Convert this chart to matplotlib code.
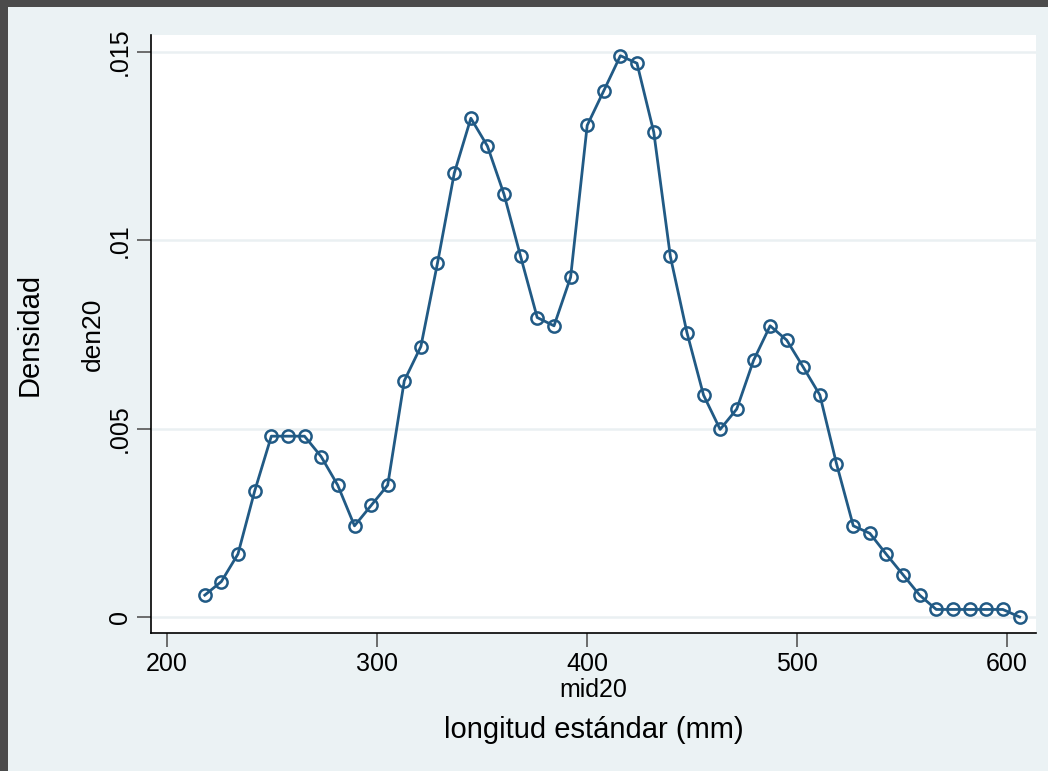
import matplotlib
matplotlib.use("Agg")
import matplotlib.pyplot as plt
from matplotlib.patches import Rectangle

# kdensity-style points (mid20 vs den20)
mid20 = [218.0, 225.9, 233.8, 241.8, 249.7, 257.6, 265.5, 273.4, 281.3, 289.3,
         297.2, 305.1, 313.0, 320.9, 328.8, 336.8, 344.7, 352.6, 360.5, 368.4,
         376.3, 384.3, 392.2, 400.1, 408.0, 415.9, 423.8, 431.8, 439.7, 447.6,
         455.5, 463.4, 471.3, 479.3, 487.2, 495.1, 503.0, 510.9, 518.8, 526.8,
         534.7, 542.6, 550.5, 558.4, 566.3, 574.3, 582.2, 590.1, 598.0, 606.0]
den20 = [0.00058, 0.00094, 0.00167, 0.00335, 0.00480, 0.00480, 0.00480, 0.00426, 0.00350, 0.00242,
         0.00296, 0.00350, 0.00627, 0.00718, 0.00939, 0.01178, 0.01324, 0.01250, 0.01122, 0.00957,
         0.00795, 0.00773, 0.00902, 0.01305, 0.01397, 0.01490, 0.01470, 0.01287, 0.00957, 0.00755,
         0.00589, 0.00498, 0.00552, 0.00681, 0.00773, 0.00735, 0.00663, 0.00589, 0.00407, 0.00242,
         0.00222, 0.00166, 0.00112, 0.00058, 0.00020, 0.00020, 0.00020, 0.00020, 0.00020, 0.00000]

xticks = [200, 300, 400, 500, 600]
yticks = [0, 0.005, 0.01, 0.015]
ytick_labels = ["0", ".005", ".01", ".015"]

bg = "#EBF2F4"
navy = "#215A85"

plt.rcParams["font.family"] = ["Liberation Sans", "DejaVu Sans"]

W, H = 1048, 771
fig = plt.figure(figsize=(W / 100, H / 100), dpi=100)
fig.patch.set_facecolor(bg)

# dark window frame at top and left
fig.patches.append(Rectangle((0, 1 - 7 / H), 1, 7 / H, transform=fig.transFigure,
                             facecolor="#4B4B4B", edgecolor="none", zorder=0))
fig.patches.append(Rectangle((0, 0), 8 / W, 1, transform=fig.transFigure,
                             facecolor="#4B4B4B", edgecolor="none", zorder=0))

left, right, top, bottom = 151, 1036, 35, 633
ax = fig.add_axes([left / W, 1 - bottom / H, (right - left) / W, (bottom - top) / H])
ax.set_facecolor("white")

ax.plot(mid20, den20, color=navy, lw=2.0, marker="o", ms=8.8,
        mfc="none", mec=navy, mew=1.8, zorder=3)

ax.set_xlim(192.4, 613.8)
ax.set_ylim(-0.000425, 0.01545)
ax.set_xticks(xticks)
ax.set_xticklabels([str(t) for t in xticks])
ax.set_yticks(yticks)
ax.set_yticklabels(ytick_labels, rotation=90, va="center")

for t in yticks:
    ax.axhline(t, color="#EAF0F2", lw=1.8, zorder=1)

for s in ["top", "right"]:
    ax.spines[s].set_visible(False)
for s in ["left", "bottom"]:
    ax.spines[s].set_color("black")
    ax.spines[s].set_linewidth(1.2)

ax.tick_params(axis="both", direction="out", length=10, width=1.2,
               color="#555555", labelsize=18, pad=4)

ax.set_xlabel("mid20", fontsize=18, labelpad=1)
ax.set_ylabel("den20", fontsize=19, labelpad=2)

fig.text(594 / W, 1 - 730 / H, "longitud estándar (mm)", fontsize=21,
         ha="center", va="center")
fig.text(30 / W, 1 - 334 / H, "Densidad", fontsize=21, rotation=90,
         ha="center", va="center")

fig.savefig("out.png", dpi=100, facecolor=bg)
